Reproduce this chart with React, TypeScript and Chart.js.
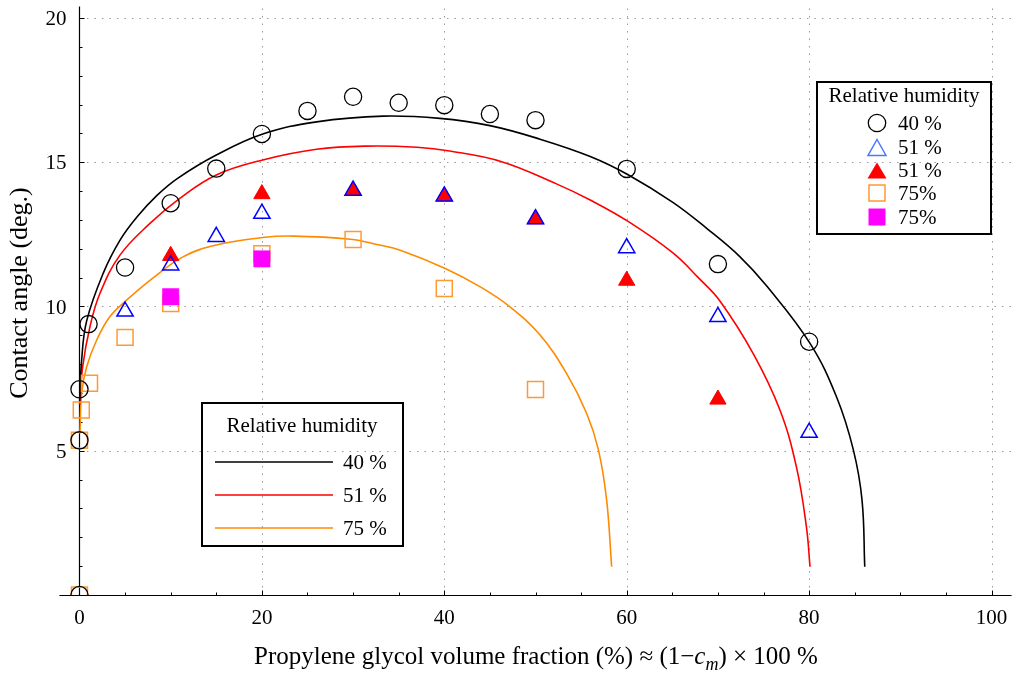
import React, { useEffect, useRef } from 'react';
import { Chart, registerables } from 'chart.js';

Chart.register(...registerables);

// ---------------- data ----------------
const xMajorTicks = [0, 20, 40, 60, 80, 100];
const xMinorTicks = [5, 10, 15, 25, 30, 35, 45, 50, 55, 65, 70, 75, 85, 90, 95];
const yMajorTicks = [5, 10, 15, 20];
const yMinorTicks = [1, 2, 3, 4, 6, 7, 8, 9, 11, 12, 13, 14, 16, 17, 18, 19];

// measured points
const rh40X = [0, 0, 0, 1, 5, 10, 15, 20, 25, 30, 35, 40, 45, 50, 60, 70, 80];
const rh40Y = [0, 5.36, 7.13, 9.39, 11.35, 13.58, 14.78, 15.98, 16.78, 17.27, 17.06, 16.98, 16.67, 16.46, 14.77, 11.47, 8.78];

const rh51OpenX = [5, 10, 15, 20, 30, 40, 50, 60, 70, 80];
const rh51OpenY = [9.83, 11.43, 12.42, 13.22, 14.02, 13.82, 13.03, 12.03, 9.64, 5.63];

const rh51FilledX = [10, 20, 30, 40, 50, 60, 70];
const rh51FilledY = [11.76, 13.9, 14.02, 13.82, 13.03, 10.9, 6.78];

const rh75OpenX = [0, 0, 0.2, 1.1, 5, 10, 20, 30, 40, 50];
const rh75OpenY = [0, 5.36, 6.41, 7.34, 8.93, 10.1, 11.83, 12.32, 10.62, 7.12];

const rh75FilledX = [10, 20];
const rh75FilledY = [10.34, 11.65];

// fitted curves
const fit40X = [0.02, 0.24, 0.79, 2.6, 4.45, 6.3, 8.5, 10.8, 15.0, 20.1, 26.0, 33.3, 39.5, 45.0, 50.5, 56.0, 60.2, 65.1, 68.8, 72.4, 75.4, 80.1, 83.0, 84.85, 85.8, 86.1];
const fit40Y = [6.7, 8.15, 9.5, 11.15, 12.3, 13.1, 13.85, 14.45, 15.25, 15.98, 16.4, 16.6, 16.52, 16.27, 15.8, 15.2, 14.56, 13.6, 12.7, 11.73, 10.69, 8.72, 6.87, 5.03, 3.29, 0.98];

const fit51X = [0.02, 0.35, 1.15, 2.25, 4.44, 7.73, 11.0, 15.0, 20.1, 26.0, 31.5, 37.0, 40.6, 46.3, 52.3, 56.0, 60.2, 65.1, 67.85, 70.2, 73.9, 76.8, 78.6, 79.7, 80.1];
const fit51Y = [6.6, 7.91, 9.3, 10.46, 11.78, 12.88, 13.75, 14.56, 15.08, 15.45, 15.56, 15.52, 15.39, 15.02, 14.25, 13.69, 12.94, 11.85, 11.0, 10.2, 8.35, 6.41, 4.45, 2.37, 0.98];

const fit75X = [0.05, 0.24, 0.79, 1.89, 3.34, 4.99, 7.9, 11.4, 15.0, 20.1, 23.4, 29.7, 32.9, 35.1, 40.1, 43.9, 47.2, 50.5, 53.4, 55.6, 56.9, 57.8, 58.35];
const fit75Y = [5.6, 6.99, 7.91, 8.84, 9.65, 10.17, 10.95, 11.73, 12.13, 12.39, 12.44, 12.33, 12.13, 11.96, 11.32, 10.69, 9.99, 9.01, 7.68, 6.3, 5.03, 3.29, 0.98];

const markerLegendTitle = 'Relative humidity';
const markerLegendLabels = ['40 %', '51 %', '51 %', '75%', '75%'];
const lineLegendTitle = 'Relative humidity';
const lineLegendLabels = ['40 %', '51 %', '75 %'];

const yAxisTitle = 'Contact angle (deg.)';

// ---------------- styles ----------------
const FONT = '"Liberation Serif", "Times New Roman", serif';
const C_BLACK = '#000000';
const C_RED = '#ff0000';
const C_ORANGE_LINE = '#ff8a00';
const C_ORANGE_MARK = '#ff9933';
const C_BLUE = '#0000ff';
const C_BLUE_LEGEND = '#4a78ff';
const C_MAGENTA = '#ff00ff';

const pts = (xs: number[], ys: number[]) => xs.map((x, i) => ({ x, y: ys[i] }));

function drawTri(ctx: CanvasRenderingContext2D, cx: number, cy: number, w: number, h: number, fill: string | null, stroke: string | null, lw = 1.5) {
  ctx.beginPath();
  ctx.moveTo(cx, cy - h / 2);
  ctx.lineTo(cx + w / 2, cy + h / 2);
  ctx.lineTo(cx - w / 2, cy + h / 2);
  ctx.closePath();
  if (fill) { ctx.fillStyle = fill; ctx.fill(); }
  if (stroke) { ctx.strokeStyle = stroke; ctx.lineWidth = lw; ctx.stroke(); }
}

const axesPlugin = {
  id: 'mmaAxes',
  beforeDatasetsDraw(chart: any) {
    const { ctx, chartArea, scales } = chart;
    const xs = scales.x, ys = scales.y;
    const x0 = xs.getPixelForValue(0);
    const y0 = ys.getPixelForValue(0);
    ctx.save();
    // dotted grid
    ctx.strokeStyle = '#9a9a9a';
    ctx.lineWidth = 1;
    ctx.setLineDash([1.5, 6]);
    for (const v of xMajorTicks) {
      if (v === 0) continue;
      const px = Math.round(xs.getPixelForValue(v)) + 0.5;
      ctx.beginPath(); ctx.moveTo(px, y0); ctx.lineTo(px, chartArea.top); ctx.stroke();
    }
    for (const v of yMajorTicks) {
      const py = Math.round(ys.getPixelForValue(v)) + 0.5;
      ctx.beginPath(); ctx.moveTo(x0, py); ctx.lineTo(chartArea.right, py); ctx.stroke();
    }
    ctx.setLineDash([]);
    // axes
    ctx.strokeStyle = '#000';
    ctx.lineWidth = 1.2;
    const ay = Math.round(y0) + 0.5;
    const ax = Math.round(x0) + 0.5;
    ctx.beginPath(); ctx.moveTo(chartArea.left, ay); ctx.lineTo(chartArea.right, ay); ctx.stroke();
    ctx.beginPath(); ctx.moveTo(ax, chartArea.top); ctx.lineTo(ax, ay); ctx.stroke();
    ctx.lineWidth = 1;
    // ticks (inward)
    const tick = (v: number, len: number, horiz: boolean) => {
      if (horiz) {
        const px = Math.round(xs.getPixelForValue(v)) + 0.5;
        ctx.beginPath(); ctx.moveTo(px, ay); ctx.lineTo(px, ay - len); ctx.stroke();
      } else {
        const py = Math.round(ys.getPixelForValue(v)) + 0.5;
        ctx.beginPath(); ctx.moveTo(ax, py); ctx.lineTo(ax + len, py); ctx.stroke();
      }
    };
    xMajorTicks.forEach(v => tick(v, 5, true));
    xMinorTicks.forEach(v => tick(v, 3, true));
    yMajorTicks.forEach(v => tick(v, 5, false));
    yMinorTicks.forEach(v => tick(v, 3, false));
    ctx.restore();
  },
  afterDraw(chart: any) {
    const { ctx, scales } = chart;
    const xs = scales.x, ys = scales.y;
    const y0 = ys.getPixelForValue(0);
    const x0 = xs.getPixelForValue(0);
    ctx.save();
    ctx.fillStyle = '#000';
    // tick labels
    ctx.font = `21px ${FONT}`;
    ctx.textAlign = 'center';
    ctx.textBaseline = 'alphabetic';
    for (const v of xMajorTicks) {
      ctx.fillText(String(v), xs.getPixelForValue(v), y0 + 29);
    }
    ctx.textAlign = 'right';
    for (const v of yMajorTicks) {
      ctx.fillText(String(v), x0 - 13, ys.getPixelForValue(v) + 7);
    }
    // x title with italic c and subscript m
    const s = 25;
    const parts = [
      { t: 'Propylene glycol volume fraction (%) \u2248 (1\u2212', f: `${s}px ${FONT}`, dy: 0 },
      { t: 'c', f: `italic ${s}px ${FONT}`, dy: 0 },
      { t: 'm', f: `italic ${Math.round(s * 0.72)}px ${FONT}`, dy: 6 },
      { t: ') \u00d7 100 %', f: `${s}px ${FONT}`, dy: 0 },
    ];
    let total = 0;
    for (const p of parts) { ctx.font = p.f; total += ctx.measureText(p.t).width; }
    let cx = 536 - total / 2;
    ctx.textAlign = 'left';
    for (const p of parts) {
      ctx.font = p.f;
      ctx.fillText(p.t, cx, 664 + p.dy);
      cx += ctx.measureText(p.t).width;
    }
    // y title
    ctx.save();
    ctx.translate(27, 293);
    ctx.rotate(-Math.PI / 2);
    ctx.font = `26px ${FONT}`;
    ctx.textAlign = 'center';
    ctx.fillText(yAxisTitle, 0, 0);
    ctx.restore();

    // ---- marker legend (top right)
    ctx.lineWidth = 2;
    ctx.strokeStyle = '#000';
    ctx.strokeRect(817, 82, 174, 152);
    ctx.font = `21px ${FONT}`;
    ctx.textAlign = 'center';
    ctx.fillText(markerLegendTitle, 904, 102);
    const rowY = [123, 147, 170, 193, 217];
    const mx = 877;
    ctx.beginPath(); ctx.arc(mx, rowY[0], 8.7, 0, Math.PI * 2);
    ctx.lineWidth = 1.3; ctx.strokeStyle = C_BLACK; ctx.stroke();
    drawTri(ctx, mx, rowY[1] + 0.5, 18, 16, null, C_BLUE_LEGEND, 1.5);
    drawTri(ctx, mx, rowY[2] + 0.5, 19, 16, C_RED, null);
    ctx.lineWidth = 1.5; ctx.strokeStyle = C_ORANGE_MARK;
    ctx.strokeRect(mx - 8, rowY[3] - 8, 16, 16);
    ctx.fillStyle = C_MAGENTA;
    ctx.fillRect(mx - 8.5, rowY[4] - 8.5, 17, 17);
    ctx.fillStyle = '#000';
    ctx.textAlign = 'left';
    ctx.font = `21px ${FONT}`;
    markerLegendLabels.forEach((l, i) => ctx.fillText(l, 898, rowY[i] + 7));

    // ---- line legend (bottom left)
    ctx.lineWidth = 2;
    ctx.strokeStyle = '#000';
    ctx.strokeRect(202, 403, 201, 143);
    ctx.font = `21px ${FONT}`;
    ctx.textAlign = 'center';
    ctx.fillText(lineLegendTitle, 302, 432);
    const lineY = [462, 495, 528];
    const lineCols = [C_BLACK, C_RED, C_ORANGE_LINE];
    ctx.lineWidth = 1.6;
    lineY.forEach((y, i) => {
      ctx.strokeStyle = lineCols[i];
      ctx.beginPath(); ctx.moveTo(215, y); ctx.lineTo(333, y); ctx.stroke();
    });
    ctx.textAlign = 'left';
    ctx.font = `21px ${FONT}`;
    lineLegendLabels.forEach((l, i) => ctx.fillText(l, 343, lineY[i] + 7));
    ctx.restore();
  },
};

export default function App() {
  const ref = useRef<HTMLCanvasElement | null>(null);
  useEffect(() => {
    if (!ref.current) return;
    const markerBase = { showLine: false, borderWidth: 1.5, pointHoverRadius: 0 };
    const lineBase = { showLine: true, pointRadius: 0, borderWidth: 1.6, tension: 0.4, fill: false };
    const chart = new Chart(ref.current, {
      type: 'scatter',
      data: {
        datasets: [
          { ...markerBase, label: '40 %', data: pts(rh40X, rh40Y), pointStyle: 'circle', pointRadius: 8.6, borderColor: C_BLACK, backgroundColor: 'rgba(0,0,0,0)', borderWidth: 1.3 },
          { ...markerBase, label: '51 % open', data: pts(rh51OpenX, rh51OpenY), pointStyle: 'triangle', pointRadius: 9.4, borderColor: C_BLUE, backgroundColor: 'rgba(0,0,0,0)' },
          { ...markerBase, label: '51 % filled', data: pts(rh51FilledX, rh51FilledY), pointStyle: 'triangle', pointRadius: 9.4, borderColor: C_RED, backgroundColor: C_RED, borderWidth: 1 },
          { ...markerBase, label: '75% filled', data: pts(rh75FilledX, rh75FilledY), pointStyle: 'rect', pointRadius: 11.6, borderColor: C_MAGENTA, backgroundColor: C_MAGENTA, borderWidth: 0.5 },
          { ...markerBase, label: '75% open', data: pts(rh75OpenX, rh75OpenY), pointStyle: 'rect', pointRadius: 11.3, borderColor: C_ORANGE_MARK, backgroundColor: 'rgba(0,0,0,0)' },
          { ...lineBase, label: 'fit 40 %', data: pts(fit40X, fit40Y), borderColor: C_BLACK },
          { ...lineBase, label: 'fit 51 %', data: pts(fit51X, fit51Y), borderColor: C_RED },
          { ...lineBase, label: 'fit 75 %', data: pts(fit75X, fit75Y), borderColor: C_ORANGE_LINE },
        ],
      },
      options: {
        responsive: false,
        animation: false,
        devicePixelRatio: 1,
        events: [],
        layout: { autoPadding: false, padding: { left: 59.4, right: 7.4, top: 6.46, bottom: 80 } },
        scales: {
          x: { type: 'linear', min: -2.2, max: 102.2, display: false },
          y: { type: 'linear', min: 0, max: 20.4, display: false },
        },
        plugins: { legend: { display: false }, tooltip: { enabled: false } },
      },
      plugins: [axesPlugin],
    });
    return () => chart.destroy();
  }, []);
  return (
    <div style={{ position: 'fixed', left: 0, top: 0, width: 1019, height: 675, background: '#fff' }}>
      <canvas ref={ref} width={1019} height={675} style={{ display: 'block', width: 1019, height: 675 }} />
    </div>
  );
}
